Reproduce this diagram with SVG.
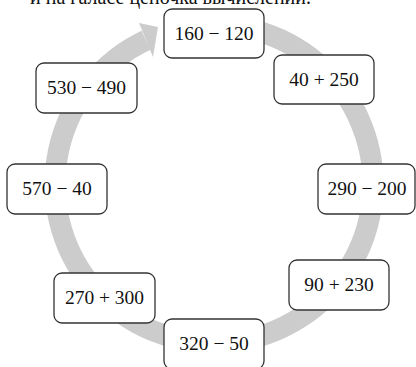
<svg xmlns="http://www.w3.org/2000/svg" width="416" height="367" viewBox="0 0 416 367">
<style>
.box{fill:#fff;stroke:#333;stroke-width:1.3}
.lbl{font-family:"Liberation Serif","Times New Roman",serif;font-size:19.5px;fill:#111;text-anchor:middle}
.cap{font-family:"Liberation Serif","Times New Roman",serif;font-size:20px;fill:#111}
</style>
<rect width="416" height="367" fill="#fff"/>
<text class="cap" x="30" y="4">и на галасе цепочка вычислений.</text>
<g id="connectors">
<path d="M255,30.4 A159,159 0 1 1 146,40.3" fill="none" stroke="#cccccc" stroke-width="21"/>
<polygon points="139,23 158,27 153,57" fill="#cccccc"/>
</g>
<g id="n1"><rect class="box" x="164" y="9" width="100" height="49" rx="8"/><text class="lbl" x="214" y="40">160 − 120</text></g>
<g id="n2"><rect class="box" x="274" y="55" width="100" height="49" rx="8"/><text class="lbl" x="324" y="86">40 + 250</text></g>
<g id="n3"><rect class="box" x="318" y="164" width="97" height="50" rx="8"/><text class="lbl" x="367" y="195">290 − 200</text></g>
<g id="n4"><rect class="box" x="289" y="260" width="100" height="50" rx="8"/><text class="lbl" x="339" y="291">90 + 230</text></g>
<g id="n5"><rect class="box" x="164" y="319" width="100" height="50" rx="8"/><text class="lbl" x="214" y="350">320 − 50</text></g>
<g id="n6"><rect class="box" x="54" y="273" width="101" height="50" rx="8"/><text class="lbl" x="104.5" y="304">270 + 300</text></g>
<g id="n7"><rect class="box" x="7" y="164" width="100" height="50" rx="8"/><text class="lbl" x="57" y="195">570 − 40</text></g>
<g id="n8"><rect class="box" x="36" y="63" width="101" height="50" rx="8"/><text class="lbl" x="86.5" y="94">530 − 490</text></g>
</svg>
